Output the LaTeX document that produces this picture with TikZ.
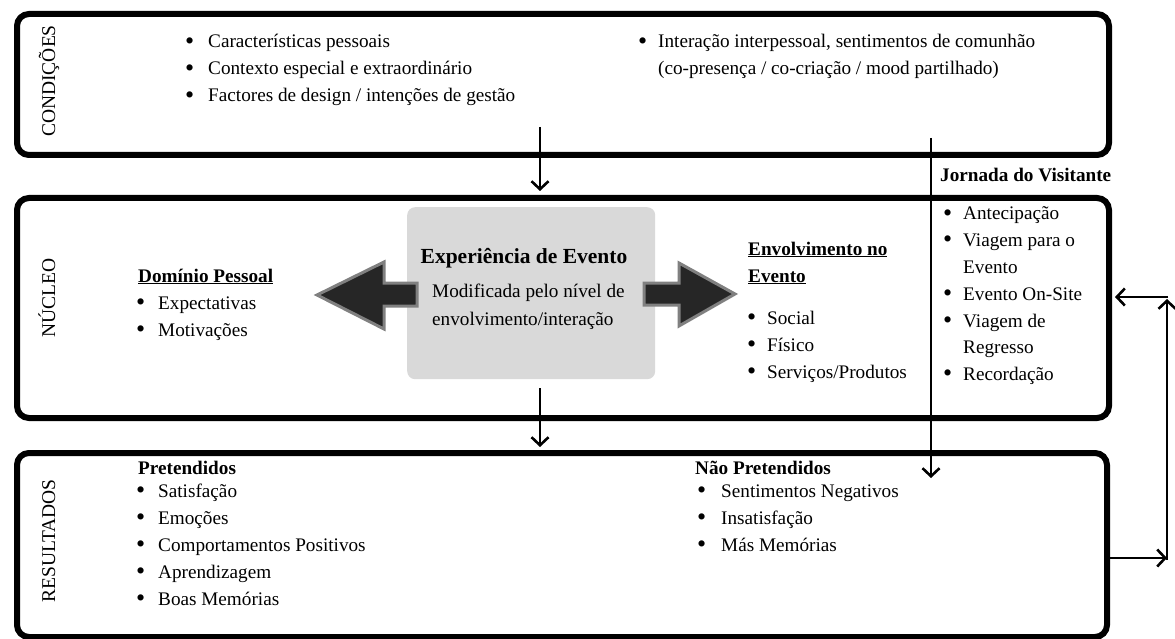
\documentclass[tikz,border=0pt]{standalone}
\usepackage{fontspec}
\setmainfont{Liberation Serif}
\usetikzlibrary{arrows.meta}
\newcommand\mybul[1][13pt]{\llap{{\fontsize{26}{27}\selectfont\raisebox{-1.6pt}{•}}\hspace{#1}}}
\begin{document}
\begin{tikzpicture}[x=1pt,y=-1pt,
  box/.style={draw=black, line width=6pt, rounded corners=12pt, anchor=north west, inner sep=0pt},
  txt/.style={font=\fontsize{19.2}{27}\selectfont, inner sep=0pt, anchor=base west},
  hd/.style={font=\fontsize{19.2}{27}\selectfont\bfseries, inner sep=0pt, anchor=base west},
  side/.style={font=\fontsize{19.5}{27}\selectfont, rotate=90, inner sep=0pt, anchor=base},
  conn/.style={line width=2.6pt, -{Straight Barb[length=8pt,width=17pt,line width=2.6pt]}},
  bigarrow/.style={fill=black!85, draw=black!50, line width=3pt, line join=miter},
  core/.style={fill=black!15, rounded corners=8pt, anchor=north west, inner sep=0pt}
]
\useasboundingbox (0,0) rectangle (1175,639);

% frames
\node[box, minimum width=1092pt, minimum height=141pt] (top) at (14,11) {};
\node[box, minimum width=1092pt, minimum height=220pt] (mid) at (14,195) {};
\node[box, minimum width=1090pt, minimum height=184pt] (bot) at (14,450) {};

% side labels
\node[side] (lc) at (55,81) {CONDIÇÕES};
\node[side] (ln) at (55,298) {NÚCLEO};
\node[side] (lr) at (55,541) {RESULTADOS};

% condições
\node[txt] (c1) at (208,48) {\mybul[14pt]Características pessoais};
\node[txt] (c2) at (208,75) {\mybul[14pt]Contexto especial e extraordinário};
\node[txt] (c3) at (208,102) {\mybul[14pt]Factores de design / intenções de gestão};
\node[txt] (c4) at (658,48) {\mybul[11pt]Interação interpessoal, sentimentos de comunhão};
\node[txt] (c5) at (658,75) {(co-presença / co-criação / mood partilhado)};

% core box and big arrows
\node[core, minimum width=248pt, minimum height=172pt] (exp) at (407,207) {};
\path[bigarrow] (417,283) -- (384,283) -- (384,262) -- (317,295) -- (384,329) -- (384,306) -- (417,306) -- cycle;
\path[bigarrow] (644,283) -- (679,283) -- (679,263) -- (735,294) -- (679,326) -- (679,305) -- (644,305) -- cycle;
\node[hd, font=\fontsize{21.5}{26}\selectfont\bfseries, anchor=base] (expt) at (524,263) {Experiência de Evento};
\node[txt] (m1) at (432,297) {Modificada pelo nível de};
\node[txt] (m2) at (432,325) {envolvimento/interação};

% domínio pessoal
\node[hd] (dp) at (138,282) {\underline{Domínio Pessoal}};
\node[txt] (dp1) at (158,309) {\mybul Expectativas};
\node[txt] (dp2) at (158,336) {\mybul Motivações};

% envolvimento
\node[hd] (en1) at (748,255) {\underline{Envolvimento no}};
\node[hd] (en2) at (748,282) {\underline{Evento}};
\node[txt] (en3) at (767,324) {\mybul[11pt]Social};
\node[txt] (en4) at (767,351) {\mybul[11pt]Físico};
\node[txt] (en5) at (767,378) {\mybul[11pt]Serviços/Produtos};

% jornada
\node[hd] (jv) at (940,182) {Jornada do Visitante};
\node[txt] (jv1) at (963,220) {\mybul[11pt]Antecipação};
\node[txt] (jv2) at (963,246) {\mybul[11pt]Viagem para o};
\node[txt] (jv3) at (963,273) {Evento};
\node[txt] (jv4) at (963,300) {\mybul[11pt]Evento On-Site};
\node[txt] (jv5) at (963,327) {\mybul[11pt]Viagem de};
\node[txt] (jv6) at (963,353) {Regresso};
\node[txt] (jv7) at (963,380) {\mybul[11pt]Recordação};

% resultados
\node[hd] (pr) at (138,474) {Pretendidos};
\node[txt] (pr1) at (158,497) {\mybul Satisfação};
\node[txt] (pr2) at (158,524) {\mybul Emoções};
\node[txt] (pr3) at (158,551) {\mybul Comportamentos Positivos};
\node[txt] (pr4) at (158,578) {\mybul Aprendizagem};
\node[txt] (pr5) at (158,605) {\mybul Boas Memórias};
\node[hd] (np) at (695,474) {Não Pretendidos};
\node[txt] (np1) at (721,497) {\mybul[15pt]Sentimentos Negativos};
\node[txt] (np2) at (721,524) {\mybul[15pt]Insatisfação};
\node[txt] (np3) at (721,551) {\mybul[15pt]Más Memórias};

% connectors
\coordinate (a1) at (540,127);
\draw[conn, shorten >=4pt] (a1) -- (a1 |- mid.north);
\coordinate (a2) at (540,388);
\draw[conn, shorten >=3pt] (a2) -- (a2 |- bot.north);
\coordinate (j1) at (931,138);
\coordinate (j2) at (931,478);
\draw[conn] (j1) -- (j2);
\coordinate (f1) at (1167,558);
\draw[conn] (bot.east |- f1) -- (f1);
\coordinate (f2) at (1167,560);
\coordinate (f3) at (1167,299);
\draw[conn] (f2) -- (f3);
\coordinate (f4) at (1168,297);
\draw[conn, shorten >=3pt] (f4) -- (f4 -| mid.east);
\end{tikzpicture}
\end{document}
